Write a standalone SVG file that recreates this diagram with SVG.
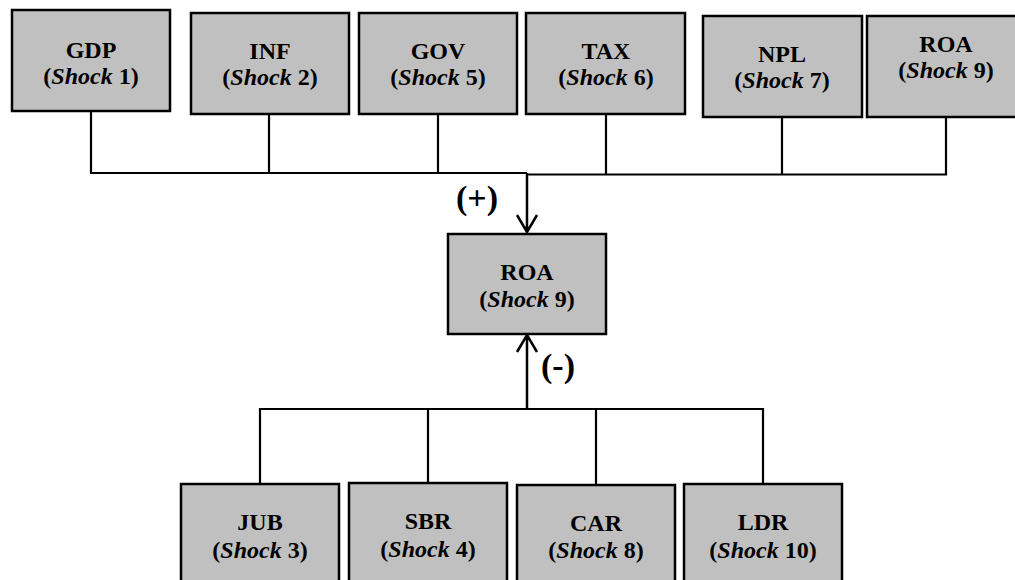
<svg xmlns="http://www.w3.org/2000/svg" width="1015" height="580" viewBox="0 0 1015 580">
<style>
.box{fill:#C0C0C0;stroke:#000;stroke-width:2.5}
text{font-family:'Liberation Serif',Tinos,'Times New Roman','DejaVu Serif',serif;font-weight:bold;text-anchor:middle;fill:#000}
.t{font-size:24px}
.i{font-style:italic}
.c{fill:none;stroke:#000;stroke-width:2.2}
.a{fill:none;stroke:#000;stroke-width:2.5}
.s{font-size:34px}
</style>
<rect width="1015" height="580" fill="#fff"/>
<g id="connectors">
<path class="c" d="M91 111V173H527M269 114V173M438 114V173M527 174.5H946V117M606 114V174.5M782 117V174.5"/>
<path class="a" d="M527 173V232M517 215L527 232L537 215"/>
<path class="a" d="M527 409V335M517 352L527 335L537 352"/>
<path class="c" d="M260 484V409H763V484M428 483V409M596 485V409"/>
</g>
<g id="label-plus"><text class="s" x="477" y="209">(+)</text></g>
<g id="label-minus"><text class="s" x="558" y="377">(-)</text></g>
<g id="gdp"><rect class="box" x="12" y="10" width="158" height="101"/><text class="t" x="91" y="58">GDP</text><text class="t" x="91" y="84">(<tspan class="i">Shock</tspan> 1)</text></g>
<g id="inf"><rect class="box" x="191" y="13" width="158" height="101"/><text class="t" x="270" y="59">INF</text><text class="t" x="270" y="85">(<tspan class="i">Shock</tspan> 2)</text></g>
<g id="gov"><rect class="box" x="359" y="13" width="158" height="101"/><text class="t" x="438" y="59">GOV</text><text class="t" x="438" y="85">(<tspan class="i">Shock</tspan> 5)</text></g>
<g id="tax"><rect class="box" x="526" y="13" width="159" height="101"/><text class="t" x="606" y="59">TAX</text><text class="t" x="606" y="85">(<tspan class="i">Shock</tspan> 6)</text></g>
<g id="npl"><rect class="box" x="703" y="16" width="159" height="101"/><text class="t" x="782" y="62">NPL</text><text class="t" x="782" y="88">(<tspan class="i">Shock</tspan> 7)</text></g>
<g id="roa-top"><rect class="box" x="867" y="16" width="158" height="101"/><text class="t" x="946" y="52">ROA</text><text class="t" x="946" y="78">(<tspan class="i">Shock</tspan> 9)</text></g>
<g id="roa-center"><rect class="box" x="448" y="234" width="158" height="100"/><text class="t" x="527" y="280">ROA</text><text class="t" x="527" y="307">(<tspan class="i">Shock</tspan> 9)</text></g>
<g id="jub"><rect class="box" x="181" y="484" width="158" height="101"/><text class="t" x="260" y="530">JUB</text><text class="t" x="260" y="558">(<tspan class="i">Shock</tspan> 3)</text></g>
<g id="sbr"><rect class="box" x="349" y="483" width="158" height="102"/><text class="t" x="428" y="529">SBR</text><text class="t" x="428" y="557">(<tspan class="i">Shock</tspan> 4)</text></g>
<g id="car"><rect class="box" x="517" y="485" width="158" height="100"/><text class="t" x="596" y="531">CAR</text><text class="t" x="596" y="558">(<tspan class="i">Shock</tspan> 8)</text></g>
<g id="ldr"><rect class="box" x="684" y="484" width="158" height="101"/><text class="t" x="763" y="530">LDR</text><text class="t" x="763" y="558">(<tspan class="i">Shock</tspan> 10)</text></g>
</svg>
